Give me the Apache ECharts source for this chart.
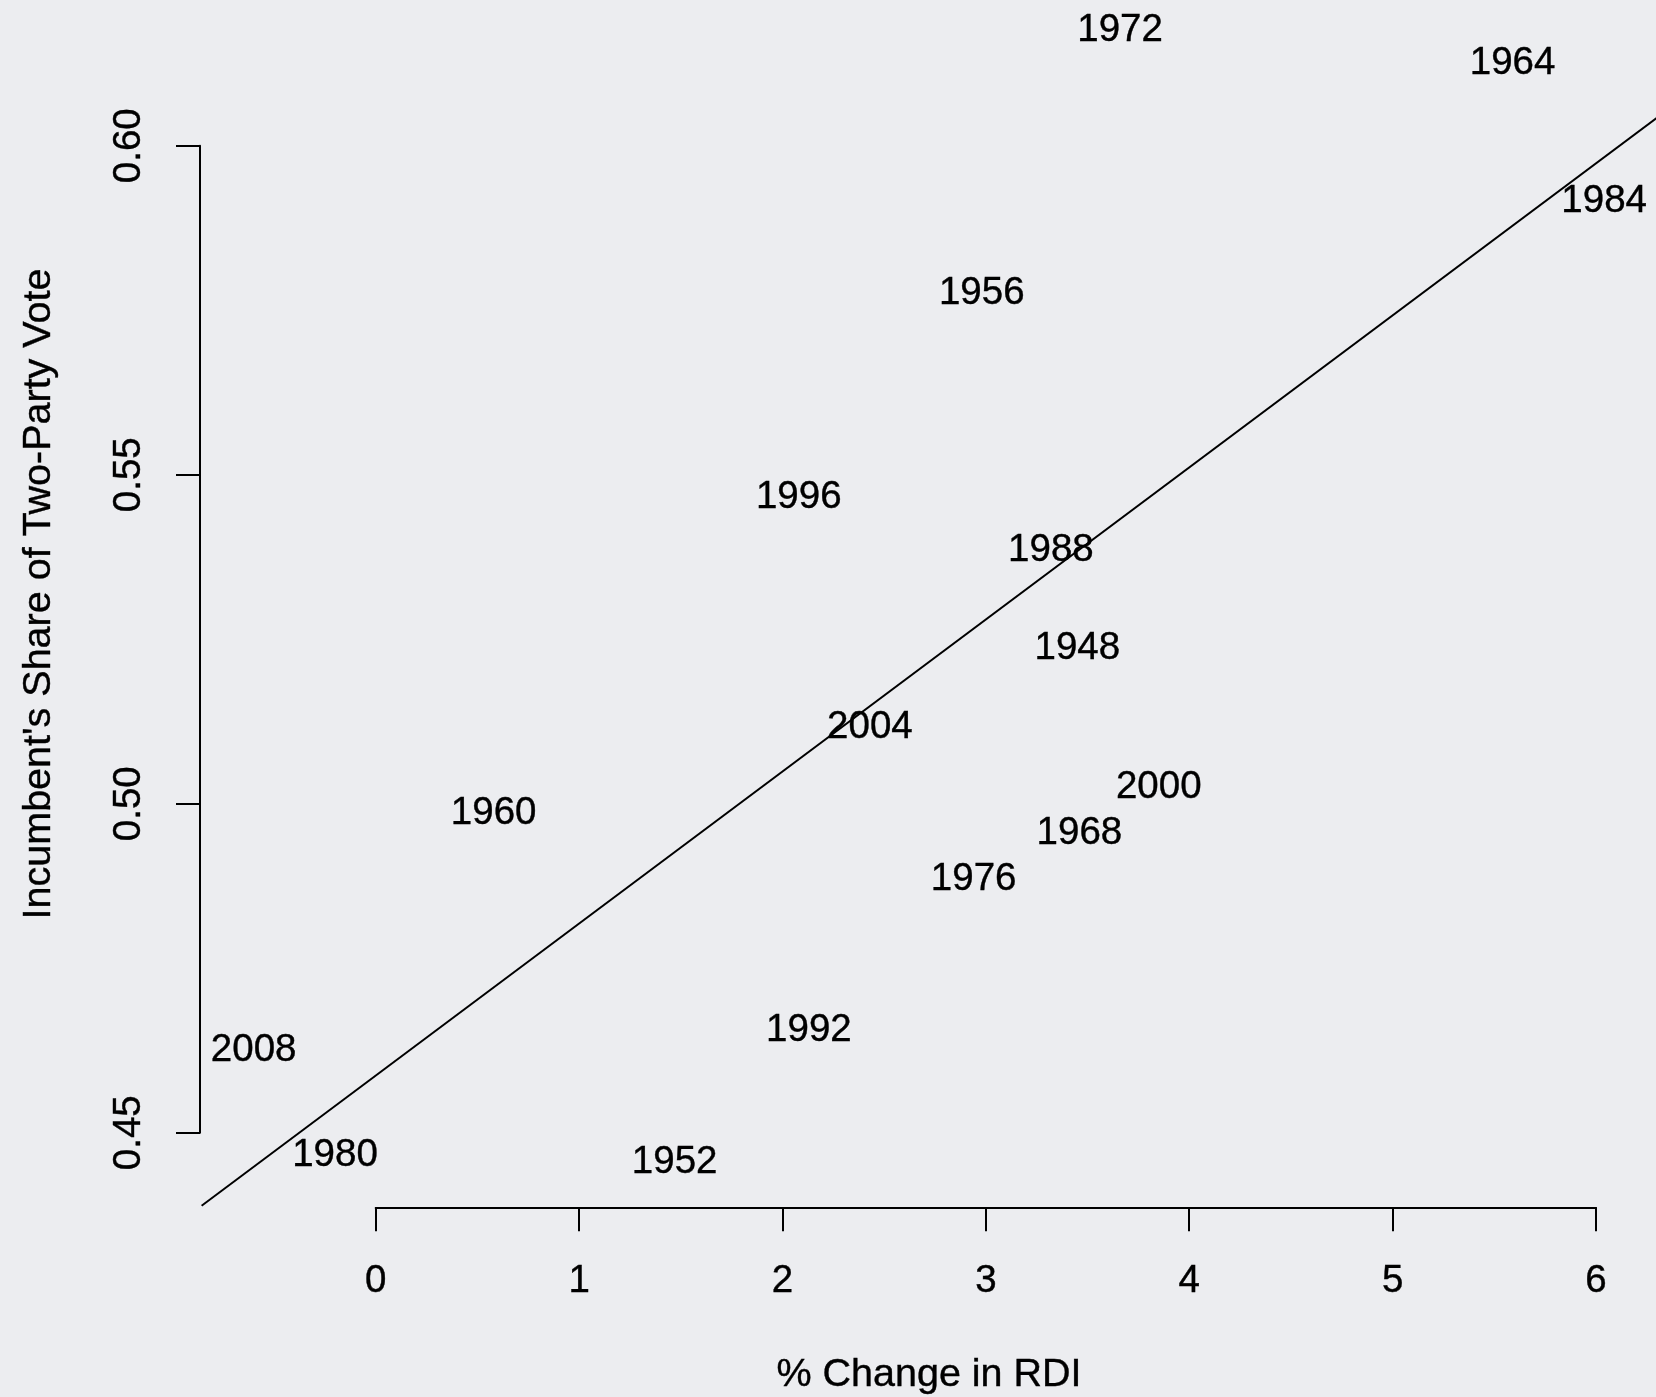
<!DOCTYPE html>
<html>
<head>
<meta charset="utf-8">
<script src="https://cdn.jsdelivr.net/npm/echarts@6/dist/echarts.min.js"></script>
<style>
  html, body { margin: 0; padding: 0; background: #ecedf0; }
  #chart { width: 1656px; height: 1397px; }
</style>
</head>
<body>
<div id="chart"></div>
<script>
// ---- Data ----
const years   = ['1972','1964','1984','1956','1996','1988','1948','2004','2000','1960','1968','1976','1992','2008','1980','1952'];
const rdiChange = [3.66, 5.59, 6.04, 2.98, 2.08, 3.32, 3.45, 2.43, 3.85, 0.58, 3.46, 2.94, 2.13, -0.60, -0.20, 1.47];
const voteShare = [0.618, 0.613, 0.592, 0.578, 0.547, 0.539, 0.524, 0.512, 0.503, 0.499, 0.496, 0.489, 0.466, 0.463, 0.447, 0.446];

// fitted line end points (as drawn in the reference)
const fitX = [-0.856, 6.35];
const fitY = [0.4389, 0.6054];

const xTicks = [0, 1, 2, 3, 4, 5, 6];
const yTicks = [0.45, 0.50, 0.55, 0.60];

const xTitle = '% Change in RDI';
const yTitle = "Incumbent's Share of Two-Party Vote";

// ---- Chart ----
const FONT = '"Liberation Sans", Arial, Helvetica, sans-serif';
const FS = 38.5;
const FS_TITLE = 39.5;
const chart = echarts.init(document.getElementById('chart'), null, { renderer: 'canvas' });

const pts = years.map((y, i) => ({ name: y, value: [rdiChange[i], voteShare[i]] }));

chart.setOption({
  backgroundColor: '#ecedf0',
  animation: false,
  grid: { left: 375.7, right: 60, top: 145.7, bottom: 264.3, containLabel: false },
  xAxis: {
    type: 'value',
    min: xTicks[0], max: xTicks[xTicks.length - 1], interval: 1,
    offset: 74.6,
    axisLine: { show: true, onZero: false, lineStyle: { color: '#000', width: 2 } },
    axisTick: { show: true, length: 24, lineStyle: { color: '#000', width: 2 } },
    axisLabel: { show: true, margin: 55, color: '#000', fontSize: FS, fontFamily: FONT, lineHeight: FS,
                 textBorderColor: '#000', textBorderWidth: 0.4,
                 formatter: v => String(v) },
    splitLine: { show: false }
  },
  yAxis: {
    type: 'value',
    min: yTicks[0], max: yTicks[yTicks.length - 1], interval: 0.05,
    offset: 175.7,
    axisLine: { show: true, onZero: false, lineStyle: { color: '#000', width: 2 } },
    axisTick: { show: true, length: 24, lineStyle: { color: '#000', width: 2 } },
    axisLabel: { show: true, rotate: 90, margin: 51, color: '#000', fontSize: FS, fontFamily: FONT, lineHeight: FS,
                 textBorderColor: '#000', textBorderWidth: 0.4,
                 formatter: v => v.toFixed(2) },
    splitLine: { show: false }
  },
  series: [
    {
      type: 'custom',
      data: [[fitX[0], fitY[0], fitX[1], fitY[1]]],
      encode: { x: [0, 2], y: [1, 3] },
      clip: false,
      silent: true,
      z: 2,
      renderItem: function (params, api) {
        const p0 = api.coord([api.value(0), api.value(1)]);
        const p1 = api.coord([api.value(2), api.value(3)]);
        return {
          type: 'line',
          shape: { x1: p0[0], y1: p0[1], x2: p1[0], y2: p1[1] },
          style: { stroke: '#000', lineWidth: 2, fill: null }
        };
      }
    },
    {
      type: 'scatter',
      data: pts,
      clip: false,
      symbolSize: 0,
      silent: true,
      itemStyle: { opacity: 1, color: '#000' },
      label: {
        show: true,
        position: 'inside',
        offset: [0, 3],
        formatter: p => p.name,
        color: '#000',
        opacity: 1,
        fontSize: FS,
        fontFamily: FONT,
        textBorderColor: '#000',
        textBorderWidth: 0.4,
        align: 'center',
        verticalAlign: 'middle'
      },
      z: 3
    }
  ],
  graphic: [
    {
      type: 'text',
      x: 929, y: 1375,
      style: { text: xTitle, fill: '#000', stroke: '#000', lineWidth: 0.4,
               font: FS_TITLE + 'px ' + FONT, align: 'center', verticalAlign: 'middle' }
    },
    {
      type: 'text',
      x: 39, y: 594,
      rotation: Math.PI / 2,
      style: { text: yTitle, fill: '#000', stroke: '#000', lineWidth: 0.4,
               font: FS_TITLE + 'px ' + FONT, align: 'center', verticalAlign: 'middle' }
    }
  ]
});
</script>
</body>
</html>
